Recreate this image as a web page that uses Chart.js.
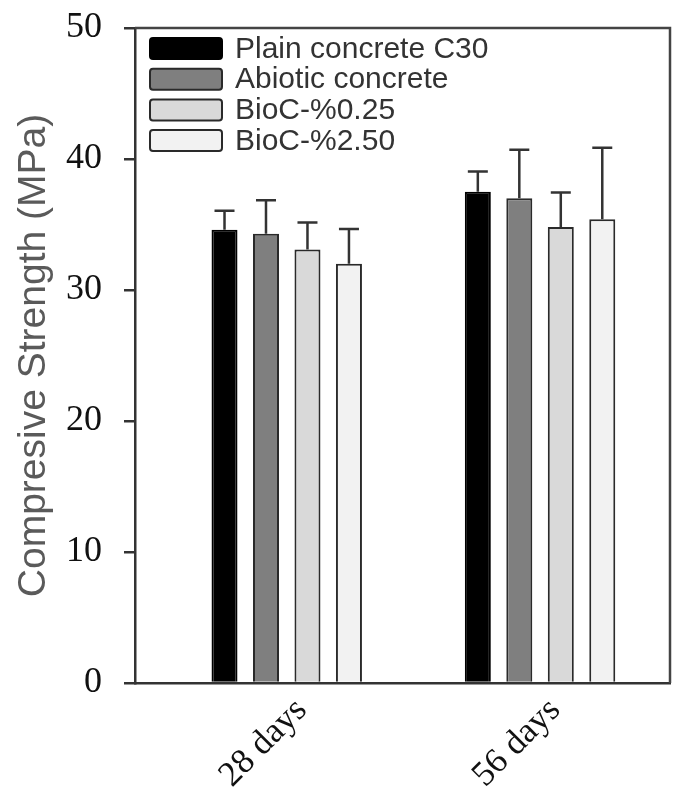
<!DOCTYPE html>
<html><head><meta charset="utf-8">
<script src="https://cdn.jsdelivr.net/npm/chart.js@4"></script>
<style>html,body{margin:0;padding:0;background:#fff}#wrap{width:678px;height:795px}</style>
</head><body><div id="wrap"><canvas id="c" width="678" height="795"></canvas></div>
<script>
// ---- data ----
const categories = ['28 days', '56 days'];
const seriesNames = ['Plain concrete C30', 'Abiotic concrete', 'BioC-%0.25', 'BioC-%2.50'];
const plainC30 = [34.6, 37.5];
const abiotic = [34.3, 37.0];
const bioc025 = [33.1, 34.8];
const bioc250 = [32.0, 35.4];
const plainC30Err = [1.45, 1.55];
const abioticErr = [2.55, 3.7];
const bioc025Err = [2.05, 2.65];
const bioc250Err = [2.65, 5.45];
const yTicks = [0, 10, 20, 30, 40, 50];
const yTitle = 'Compresive Strength (MPa)';

const seriesValues = [plainC30, abiotic, bioc025, bioc250];
const seriesErrors = [plainC30Err, abioticErr, bioc025Err, bioc250Err];
const fills = ['#000000', '#7f7f7f', '#d9d9d9', '#f2f2f2'];
const borders = ['#000000', '#2a2a2a', '#2a2a2a', '#2a2a2a'];

const datasets = seriesNames.map((name, s) => ({
  label: name,
  data: seriesValues[s].map((v, i) => ({ x: i + 1, y: v })),
  errors: seriesErrors[s],
  backgroundColor: fills[s],
  borderColor: borders[s],
  borderWidth: 2,
  borderSkipped: 'bottom',
  categoryPercentage: 0.655,
  barPercentage: 0.627
}));

const extras = {
  id: 'extras',
  afterDatasetsDraw(chart) {
    const ctx = chart.ctx;
    const ys = chart.scales.y;
    ctx.save();
    ctx.strokeStyle = '#333';
    ctx.lineWidth = 2.5;
    chart.data.datasets.forEach((ds, di) => {
      const meta = chart.getDatasetMeta(di);
      meta.data.forEach((bar, i) => {
        const v = ds.data[i].y, e = ds.errors[i];
        const yT = ys.getPixelForValue(v + e);
        ctx.beginPath();
        ctx.moveTo(bar.x, bar.y);
        ctx.lineTo(bar.x, yT);
        ctx.moveTo(bar.x - 10, yT);
        ctx.lineTo(bar.x + 10, yT);
        ctx.stroke();
      });
    });
    ctx.restore();
  },
  afterDraw(chart) {
    const ctx = chart.ctx;
    const a = chart.chartArea;
    ctx.save();
    // frame top/right
    ctx.strokeStyle = '#444';
    ctx.lineWidth = 2.5;
    ctx.beginPath();
    ctx.moveTo(a.left, a.top);
    ctx.lineTo(a.right, a.top);
    ctx.lineTo(a.right, a.bottom);
    ctx.stroke();
    // legend
    const bx = a.left + 15, by0 = a.top + 10, rowH = 30.7, bw = 72, bh = 21;
    ctx.font = '30px "Liberation Sans", Arial, sans-serif';
    ctx.textBaseline = 'middle';
    ctx.textAlign = 'left';
    chart.data.datasets.forEach((ds, i) => {
      const y = by0 + i * rowH;
      ctx.fillStyle = ds.backgroundColor;
      ctx.strokeStyle = ds.borderColor;
      ctx.lineWidth = 2;
      ctx.beginPath();
      if (ctx.roundRect) ctx.roundRect(bx, y, bw, bh, 3); else ctx.rect(bx, y, bw, bh);
      ctx.fill();
      ctx.stroke();
      ctx.fillStyle = '#333';
      ctx.fillText(ds.label, bx + bw + 13, y + bh / 2 + 1);
    });
    // y title
    ctx.translate(45, (a.top + a.bottom) / 2);
    ctx.rotate(-Math.PI / 2);
    ctx.font = '39px "Liberation Sans", Arial, sans-serif';
    ctx.fillStyle = '#5a5a5a';
    ctx.textAlign = 'center';
    ctx.textBaseline = 'alphabetic';
    ctx.fillText(yTitle, 0, 0);
    ctx.restore();
  }
};

new Chart(document.getElementById('c'), {
  type: 'bar',
  data: { datasets },
  options: {
    responsive: false,
    animation: false,
    devicePixelRatio: 1,
    layout: { padding: { top: 28, right: 8, left: 0, bottom: 0 } },
    plugins: { legend: { display: false }, tooltip: { enabled: false } },
    scales: {
      x: {
        type: 'linear',
        offset: false,
        min: 0.401,
        max: 2.513,
        afterBuildTicks: s => { s.ticks = categories.map((c, i) => ({ value: i + 1 })); },
        afterFit: s => { s.height = 112; s.paddingLeft = 0; s.paddingRight = 0; },
        ticks: {
          autoSkip: false,
          minRotation: 45,
          maxRotation: 45,
          padding: 7,
          labelOffset: 15,
          color: '#111',
          font: { family: '"Liberation Serif", "Times New Roman", serif', size: 35 },
          callback: (v, i) => categories[i]
        },
        grid: { display: false, drawTicks: false, offset: false },
        border: { display: true, color: '#333', width: 2.5 }
      },
      y: {
        min: 0,
        max: 50,
        afterBuildTicks: s => { s.ticks = yTicks.map(v => ({ value: v })); },
        afterFit: s => { s.width = 135; s.paddingTop = 0; s.paddingBottom = 0; },
        ticks: {
          padding: 22,
          color: '#111',
          font: { family: '"Liberation Serif", "Times New Roman", serif', size: 36 }
        },
        grid: { drawOnChartArea: false, drawTicks: true, tickLength: 11, color: '#333', lineWidth: 2.5 },
        border: { display: true, color: '#333', width: 2.5 }
      }
    }
  },
  plugins: [extras]
});
</script>
</body></html>
